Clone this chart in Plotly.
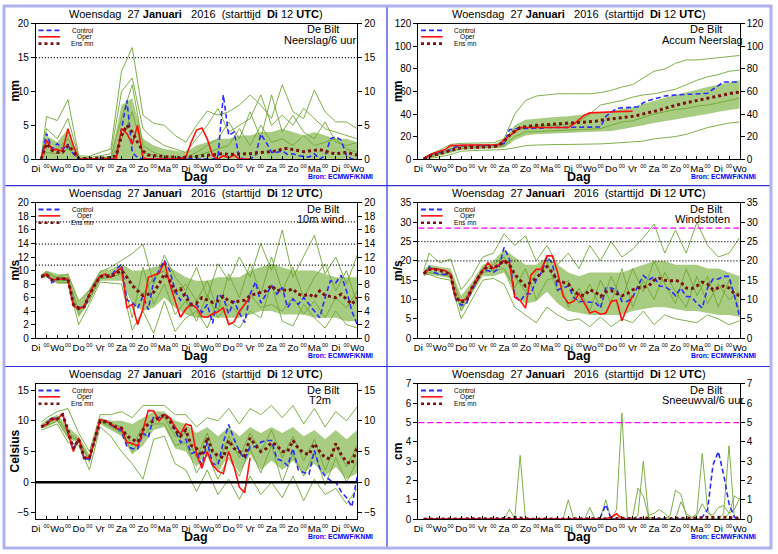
import plotly.graph_objects as go

W, H = 778, 554

# ---------------- time axis ----------------
HOURS6 = list(range(6, 361, 6))                 # 6-hourly steps, 60 points
HOURS12 = [6] + list(range(12, 361, 12))        # member grid, 31 points
OPER_HOURS = HOURS6[:40]                        # oper run up to +240 h
TICK_HOURS = list(range(0, 361, 12))
DAY_NAMES = ["Di", "Wo", "Do", "Vr", "Za", "Zo", "Ma", "Di", "Wo", "Do", "Vr", "Za", "Zo", "Ma", "Di", "Wo"]
MID_LABEL = "00"

TITLE = ("Woensdag\u00a0\u00a027\u00a0<b>Januari</b>\u00a0\u00a0\u00a02016\u00a0\u00a0(starttijd\u00a0\u00a0"
         "<b>Di</b>\u00a012\u00a0<b>UTC</b>)")
STATION = "De Bilt"
SOURCE = "Bron: ECMWF/KNMI"
LEGEND_NAMES = ["Control", "Oper", "Ens mn"]

# ---------------- panel 1: Neerslag/6 uur ----------------
pr_ctrl = [0, 3.8, 1.5, 2.3, 1.5, 2.0, 0.8, 0, 0, 0,
           0, 0, 0, 0, 0.2, 4.5, 8.7, 1.0, 0.2, 0,
           0, 0, 0, 0, 0, 0, 0.2, 0.1, 0, 0,
           0, 0, 0, 0.3, 9.5, 3.5, 4.0, 0.2, 0, 0,
           0.5, 3.7, 2.5, 1.0, 1.0, 1.2, 0.7, 0.8, 0.5, 0.4,
           0.3, 0.8, 0, 0.5, 3.0, 3.3, 2.8, 0.5, 0, 0]
pr_oper = [0, 2.8, 1.4, 1.4, 1.2, 4.5, 2.0, 0, 0, 0,
           0, 0, 0, 0, 0, 4.5, 3.8, 2.2, 5.0, 0.2,
           0, 0, 0, 0, 0, 0, 0.1, 0.3, 2.5, 4.3,
           4.6, 3.0, 0.5, 0, 0.5, 0.2, 0.6, 0, 0, 0]
pr_mean = [0, 2.3, 1.3, 1.0, 1.0, 2.0, 1.2, 0.1, 0.1, 0.1,
           0.1, 0.2, 0.2, 0.2, 0.5, 3.5, 5.0, 4.0, 2.5, 1.2,
           0.6, 0.5, 0.4, 0.3, 0.3, 0.3, 0.2, 0.3, 0.3, 0.4,
           0.5, 0.6, 0.6, 0.8, 0.8, 0.7, 0.7, 0.8, 0.7, 0.8,
           0.9, 1.0, 1.0, 1.1, 1.2, 1.5, 1.6, 1.4, 1.2, 1.1,
           1.2, 1.3, 1.4, 1.2, 0.9, 0.8, 0.9, 1.0, 0.8, 0.6]
pr_band_hi = [0.2, 3.5, 2.5, 4.5, 0.2, 0.1, 0.3, 0.5, 8.0, 9.0, 3.0, 2.0, 1.5, 1.2, 1.0, 2.0,
              2.5, 3.0, 3.0, 3.5, 3.5, 4.0, 4.0, 4.5, 4.0, 3.5, 4.0, 3.5, 3.0, 3.0, 2.5]
pr_band_lo = None
pr_members = [
    [0.3, 6.3, 5.7, 8.8, 0.5, 0.4, 1.0, 1.5, 13.0, 16.5, 6.5, 5.3, 5.0, 3.5, 2.5, 5.0,
     7.1, 6.5, 7.0, 8.0, 9.5, 8.0, 6.0, 11.0, 7.0, 6.0, 10.2, 7.0, 5.5, 5.5, 4.5],
    [0.2, 4.5, 3.0, 6.0, 0.3, 0.2, 0.5, 0.8, 10.0, 12.0, 4.5, 3.0, 2.0, 1.5, 1.0, 3.0,
     5.0, 7.5, 4.0, 5.0, 6.0, 9.5, 5.0, 6.5, 5.0, 7.5, 6.0, 4.5, 4.0, 3.5, 3.0],
    [0.1, 2.0, 1.5, 3.0, 0.1, 0.0, 0.2, 0.3, 6.0, 11.0, 2.0, 1.0, 0.5, 0.2, 0.3, 1.0,
     2.0, 3.0, 5.5, 3.0, 7.0, 3.0, 9.5, 4.0, 6.5, 4.0, 3.0, 5.5, 2.5, 2.0, 2.5],
    [0.0, 1.0, 0.8, 1.5, 0.0, 0.0, 0.0, 0.1, 3.0, 7.0, 1.0, 0.5, 0.2, 0.0, 0.0, 0.5,
     1.0, 1.5, 2.0, 4.5, 2.0, 5.0, 2.5, 3.0, 2.0, 3.5, 2.0, 2.5, 3.0, 1.5, 1.0],
]

# ---------------- panel 2: Accum Neerslag ----------------
ac_ctrl = [0.3, 3.5, 5, 6, 7, 8, 11, 12, 12, 12,
           12, 12, 12, 12, 12.2, 14, 26, 27, 27, 27.5,
           27.5, 27.5, 27.5, 28, 28, 28, 28, 28, 28, 28,
           28, 28, 28, 28.5, 38, 41.5, 45, 45.5, 45.5, 46,
           46.5, 50, 52, 53.5, 55, 56, 56.5, 57, 57, 57.5,
           57.5, 58, 58, 58.5, 62, 65, 68.5, 68.5, 68.5, 68.5]
ac_oper = [0.3, 3.5, 5.5, 7, 8.5, 12, 12.3, 12.5, 12.5, 12.5,
           12.5, 12.5, 12.5, 12.5, 12.8, 17, 21, 24, 28, 28,
           28, 28, 28, 28, 28, 28, 28, 28, 31, 35,
           39, 41, 41.3, 41.5, 41.8, 42, 42.2, 42.3, 42.4, 42.5]
ac_mean = [0.3, 2.5, 3.5, 5, 6.5, 8, 9, 10, 10.2, 10.5,
           10.7, 11, 11, 11, 12, 16, 21, 25, 28, 29,
           29.5, 30, 30.2, 30.5, 30.7, 31, 31.5, 32, 32.3, 32.5,
           32.8, 33, 33.5, 34.5, 35, 36, 36.5, 37, 37.5, 38,
           39, 40, 41, 42.5, 43.5, 45, 46.5, 48, 49, 50,
           51, 52.5, 53.5, 54.5, 55, 56, 57, 58, 59, 59.5]
ac_band_hi = [1, 3.5, 7, 11, 13, 13, 13, 13.5, 17, 30, 35, 36, 37, 37.5, 38, 39,
              40, 41.5, 43, 44.5, 46, 49, 52, 54.5, 57, 59.5, 62, 64, 66, 68, 70]
ac_band_lo = [0, 1, 3, 5.5, 8, 8.5, 9, 9, 10, 17, 21, 22, 22.5, 23, 23, 23.5,
              24, 24.5, 25, 26.5, 28, 30, 32, 33.5, 35, 36.5, 38, 40, 42, 43.5, 45]
ac_members = [
    [1, 4, 8, 13, 14, 14, 14, 14.5, 18, 40, 52, 56, 57, 58, 58, 58,
     58, 59, 61, 64, 66, 72, 78, 80, 85, 88, 88, 89, 90, 91, 92],
    [0, 0.5, 2, 4, 7, 7.5, 8, 8, 8.5, 10, 12, 12.5, 13, 13, 13, 13,
     13.5, 13.5, 14, 14.5, 15, 16, 18, 19, 20, 22, 25, 28, 30, 32, 33],
    [0.5, 2.5, 5, 9, 11, 11.5, 12, 12, 14, 25, 28, 29, 30, 30, 31, 33,
     40, 48, 50, 52, 55, 57, 58, 60, 62, 66, 70, 73, 75, 78, 79],
    [0.3, 1.5, 4, 7, 9.5, 10, 10.5, 10.5, 12, 20, 24, 24.5, 25, 25.5, 26, 26,
     26.5, 27, 30, 33, 34, 37, 40, 42, 44, 45, 47, 48, 50, 52, 54],
]

# ---------------- panel 3: 10m wind ----------------
wi_ctrl = [9.0, 9.6, 8.2, 8.7, 8.9, 8.6, 5.0, 4.6, 4.5, 6.5,
           8.0, 9.2, 9.3, 9.2, 10.2, 10.9, 5.6, 5.3, 4.4, 6.2,
           4.2, 8.5, 10.0, 11.5, 10.0, 7.0, 5.6, 6.8, 4.8, 5.0,
           3.8, 5.0, 2.2, 6.5, 6.0, 3.6, 5.5, 3.7, 2.3, 6.5,
           8.3, 5.2, 6.5, 7.8, 6.5, 7.5, 4.5, 5.8, 5.0, 6.0,
           5.0, 4.0, 3.0, 6.0, 8.5, 8.2, 9.3, 7.0, 4.0, 2.0]
wi_oper = [9.1, 9.5, 8.6, 8.7, 8.8, 8.7, 4.8, 4.3, 4.7, 6.5,
           8.0, 9.2, 9.5, 9.0, 9.8, 10.4, 4.5, 5.0, 2.0, 4.3,
           9.0, 9.3, 9.6, 11.3, 8.0, 5.5, 3.1, 4.3, 5.0, 4.5,
           3.2, 3.1, 3.6, 3.9, 4.5, 2.0, 2.4, 4.0, 5.0, 6.0]
wi_mean = [9.1, 9.4, 8.6, 8.8, 8.8, 8.7, 5.0, 4.4, 4.6, 6.4,
           7.9, 9.1, 9.2, 9.1, 9.6, 10.0, 9.0, 7.8, 7.0, 6.3,
           6.5, 6.8, 8.0, 9.5, 8.5, 7.0, 7.3, 6.0, 5.0, 5.2,
           6.0, 5.6, 5.3, 5.5, 6.2, 5.5, 5.3, 5.5, 5.6, 6.3,
           6.5, 6.7, 7.0, 7.8, 7.0, 7.2, 7.0, 7.3, 6.5, 6.3,
           6.5, 6.0, 7.0, 6.3, 6.2, 6.0, 6.5, 5.8, 5.0, 6.0]
wi_band_hi = [9.5, 10.0, 9.5, 9.5, 5.5, 7.3, 10.0, 10.2, 11.0, 10.0, 10.0, 10.5, 11.0, 10.0, 9.0, 8.5,
              8.5, 9.0, 9.0, 9.0, 10.0, 10.5, 11.0, 10.5, 10.0, 10.0, 10.0, 9.5, 9.0, 9.0, 9.0]
wi_band_lo = [8.8, 9.0, 8.0, 8.0, 3.0, 5.5, 8.5, 8.5, 8.5, 5.0, 4.0, 4.5, 6.0, 4.5, 3.5, 3.0,
              3.0, 3.0, 3.0, 3.0, 3.5, 4.0, 4.0, 3.5, 3.5, 3.5, 3.0, 3.0, 3.0, 2.5, 2.5]
wi_members = [
    [9.3, 9.8, 9.0, 9.5, 5.5, 7.0, 9.8, 10.5, 11.5, 12.5, 13.9, 8.0, 12.3, 9.0, 7.0, 10.5,
     6.0, 11.0, 8.5, 12.0, 9.0, 14.0, 10.0, 16.0, 9.0, 12.0, 15.2, 9.5, 12.0, 8.0, 12.3],
    [9.0, 9.3, 8.3, 8.2, 2.0, 5.0, 8.3, 8.2, 8.0, 1.2, 4.0, 0.7, 5.5, 1.0, 3.0, 4.0,
     1.5, 5.5, 2.5, 1.5, 4.0, 3.0, 8.0, 2.5, 1.8, 5.0, 3.0, 1.5, 4.0, 2.0, 1.5],
    [9.2, 9.6, 8.8, 9.0, 4.0, 6.0, 9.0, 9.5, 10.5, 8.0, 6.5, 9.0, 10.0, 6.5, 8.0, 5.5,
     8.5, 4.0, 9.5, 6.0, 11.0, 6.5, 12.0, 7.0, 10.5, 6.0, 9.0, 11.0, 7.0, 10.0, 5.0],
    [9.0, 9.2, 8.5, 8.5, 3.5, 5.5, 8.8, 9.0, 9.5, 3.0, 10.5, 5.0, 8.0, 3.5, 5.5, 2.5,
     6.5, 3.0, 5.0, 3.5, 6.5, 4.5, 5.0, 4.0, 6.0, 3.5, 5.5, 3.0, 6.0, 4.5, 7.0],
]

# ---------------- panel 4: Windstoten ----------------
gu_ctrl = [16.7, 18.5, 17.0, 16.5, 16.5, 16.5, 10.0, 8.5, 9.0, 12.5,
           15.0, 17.5, 17.5, 17.0, 18.0, 23.5, 20.5, 11.0, 9.5, 11.5,
           11.5, 15.0, 17.0, 21.0, 19.5, 12.5, 13.0, 13.5, 10.5, 9.5,
           9.5, 9.3, 9.3, 7.8, 13.0, 13.0, 12.5, 9.5, 9.5, 10.5,
           13.5, 16.2, 15.0, 16.0, 13.5, 13.3, 12.5, 11.0, 13.0, 10.8,
           10.7, 9.0, 7.8, 13.0, 15.3, 15.3, 16.0, 16.0, 11.0, 5.5]
gu_oper = [16.7, 17.8, 18.0, 17.8, 17.5, 16.5, 10.0, 9.8, 10.0, 13.0,
           15.5, 17.5, 19.5, 18.0, 19.0, 20.0, 19.5, 10.5, 9.8, 7.8,
           16.3, 17.8, 17.8, 21.3, 21.3, 17.0, 11.0, 9.0, 9.5, 11.5,
           9.0, 6.5, 7.0, 6.2, 6.5, 9.5, 9.8, 4.5, 8.0, 11.0]
gu_mean = [16.7, 17.8, 17.8, 17.5, 17.0, 16.5, 10.5, 9.3, 9.8, 13.0,
           15.3, 17.5, 18.5, 18.0, 19.0, 20.0, 19.0, 16.5, 15.0, 13.5,
           14.5, 15.5, 17.0, 18.5, 17.0, 14.8, 14.5, 14.0, 12.0, 11.3,
           11.0, 12.5, 12.0, 10.8, 12.0, 12.3, 11.5, 11.0, 11.5, 12.5,
           13.0, 13.3, 13.5, 15.0, 15.5, 15.0, 14.8, 15.0, 14.5, 13.0,
           12.8, 13.5, 14.5, 14.0, 12.5, 13.0, 13.5, 13.0, 11.5, 11.0]
gu_band_hi = [17.5, 19, 18.5, 18, 11, 14.5, 19, 20, 23, 21, 19, 19, 21, 19, 17, 16,
              17, 17, 17, 17, 18, 19, 20, 20, 19, 19, 19, 18, 18, 17, 16]
gu_band_lo = [16.3, 16.5, 16, 15.5, 7, 11.5, 16, 16, 17, 11, 9, 9.5, 12, 9, 7, 6.5,
              6, 6, 6, 6, 7, 7.5, 8, 8, 7.5, 7, 7, 6.5, 6, 6, 5.5]
gu_members = [
    [17.5, 22.0, 19.5, 20.5, 12.5, 16.0, 21.0, 22.0, 27.0, 24.0, 26.5, 20.0, 24.0, 19.0, 22.0, 18.0,
     24.0, 20.0, 25.0, 21.0, 23.0, 26.0, 29.5, 22.0, 28.0, 22.0, 30.0, 24.0, 21.0, 22.0, 26.0],
    [16.3, 16.5, 15.5, 15.0, 5.0, 10.0, 15.0, 15.5, 14.0, 8.0, 6.0, 4.0, 8.0, 6.0, 4.5, 5.0,
     3.0, 5.5, 3.0, 5.0, 4.0, 7.0, 3.5, 6.0, 5.0, 4.5, 4.0, 6.0, 5.0, 3.5, 4.5],
    [17.0, 18.5, 17.5, 17.0, 9.0, 13.0, 18.0, 19.0, 21.0, 16.0, 12.0, 17.0, 20.0, 12.0, 15.0, 9.0,
     14.0, 8.0, 16.0, 10.0, 18.0, 12.0, 20.0, 14.0, 9.0, 18.0, 11.0, 16.0, 8.0, 15.0, 7.0],
    [16.5, 17.0, 16.5, 16.0, 7.0, 12.0, 17.0, 17.5, 18.0, 13.0, 18.0, 10.0, 15.0, 16.0, 8.0, 13.0,
     7.0, 15.0, 9.0, 18.0, 8.0, 15.0, 10.0, 17.0, 12.0, 8.0, 16.0, 9.0, 14.0, 10.0, 12.0],
]

# ---------------- panel 5: T2m ----------------
t2_ctrl = [9.0, 9.5, 10.5, 10.3, 11.2, 8.0, 5.5, 7.0, 3.8, 3.8,
           7.0, 10.0, 10.0, 9.3, 8.8, 8.3, 5.8, 5.5, 5.4, 8.0,
           7.3, 10.8, 10.5, 11.0, 10.5, 8.5, 6.5, 7.0, 4.7, 5.0,
           2.8, 6.5, 3.0, 2.8, 6.5, 9.4, 7.0, 5.0, 3.8, 5.8,
           5.8, 6.5, 6.8, 6.8, 3.8, 3.5, 2.7, 5.5, 2.0, 1.6,
           1.3, 5.2, 2.3, 1.0, 0.3, 0.0, -1.5, -2.5, -4.0, 1.0]
t2_oper = [9.1, 9.4, 10.3, 10.2, 11.2, 8.0, 5.0, 7.2, 4.0, 4.0,
           7.0, 10.2, 10.0, 9.5, 8.8, 8.7, 6.5, 6.3, 5.9, 8.5,
           11.7, 11.6, 10.0, 11.0, 10.5, 9.0, 7.8, 9.5, 9.2, 4.5,
           2.3, 5.0, 2.8, 1.8, 1.4, 5.0, 2.5, -0.8, -1.7, 4.0]
t2_mean = [9.0, 9.5, 10.3, 10.3, 11.0, 8.5, 5.5, 7.0, 4.0, 4.0,
           7.0, 10.0, 9.8, 9.5, 9.0, 8.8, 7.5, 7.0, 6.5, 8.5,
           9.5, 10.0, 10.5, 11.0, 10.0, 8.5, 7.5, 8.5, 6.0, 5.5,
           4.3, 7.3, 5.0, 4.3, 4.0, 6.8, 5.5, 5.0, 4.3, 7.2,
           6.0, 5.0, 5.5, 6.5, 6.0, 5.0, 5.0, 6.8, 5.5, 4.8,
           4.5, 6.3, 5.0, 4.0, 3.8, 6.3, 4.5, 3.3, 3.0, 5.8]
t2_band_hi = [9.5, 10.2, 11, 9, 7.5, 4.5, 10.5, 10, 10, 9.5, 10.5, 11.5, 11.5, 10, 9.5, 8,
              9, 7.5, 9, 7.5, 9, 8, 9, 8, 9, 7.5, 8.5, 7, 8.5, 7, 8.5]
t2_band_lo = [8.8, 9.0, 9.8, 7, 6.5, 3.0, 9.5, 8.5, 7.5, 4.5, 6, 8.5, 9, 5.5, 5.0, 2.5,
              5, 1.5, 4.5, 1.5, 4.5, 2.0, 3.5, 2.0, 3.5, 1.5, 3.0, 1.0, 2.5, 0.5, 1.5]
t2_members = [
    [9.8, 10.5, 11.5, 12.0, 8.0, 5.0, 11.0, 11.0, 11.5, 10.5, 12.5, 12.5, 12.5, 11.0, 11.0, 9.0,
     10.5, 10.0, 12.0, 9.5, 12.0, 11.0, 12.5, 10.5, 12.5, 9.5, 12.0, 9.0, 11.5, 10.0, 12.3],
    [8.5, 8.8, 9.5, 6.5, 6.0, 2.0, 9.0, 7.5, 5.0, 3.0, 0.5, 7.0, 7.5, 3.0, 2.0, -1.5,
     2.0, -2.0, 0.5, -2.8, 1.0, -2.0, 0.0, -2.5, 1.0, -3.0, 0.5, -2.0, -1.0, -3.5, -1.0],
    [9.2, 9.5, 10.5, 8.0, 7.0, 3.5, 10.0, 9.5, 9.0, 6.0, 9.0, 10.5, 10.5, 7.5, 8.0, 4.0,
     8.0, 3.0, 7.5, 4.0, 8.0, 5.0, 8.5, 4.0, 7.5, 3.5, 7.0, 2.0, 6.0, 2.5, 6.0],
    [9.0, 9.2, 10.0, 7.5, 6.8, 3.5, 9.8, 9.0, 8.0, 5.0, 7.5, 9.5, 9.5, 6.0, 6.5, 1.5,
     4.5, 0.5, 4.0, 1.0, 5.5, 1.5, 6.0, 0.0, 4.5, 1.0, 5.0, -0.5, 4.0, 0.0, 3.5],
]

# ---------------- panel 6: Sneeuwval/6 uur ----------------
sn_ctrl = [0, 0, 0, 0, 0, 0, 0, 0, 0, 0,
           0, 0, 0, 0, 0, 0, 0, 0, 0, 0,
           0, 0, 0, 0, 0, 0, 0, 0, 0, 0,
           0, 0, 0, 0.1, 0.75, 0, 0, 0, 0, 0,
           0, 0, 0, 0, 0, 0, 0, 0, 0, 0,
           0, 0, 0.1, 0.5, 2.8, 3.5, 2.3, 0.8, 0.1, 0]
sn_oper = [0, 0, 0, 0, 0, 0, 0, 0, 0, 0,
           0, 0, 0, 0, 0, 0, 0, 0, 0, 0,
           0, 0, 0, 0, 0, 0, 0, 0, 0, 0,
           0, 0, 0, 0, 0.02, 0.1, 0.28, 0.02, 0, 0]
sn_mean = [0, 0, 0, 0, 0, 0, 0, 0, 0, 0,
           0, 0, 0, 0, 0, 0, 0.03, 0.08, 0.05, 0.01,
           0, 0, 0, 0, 0, 0, 0, 0.01, 0, 0,
           0, 0.01, 0, 0.01, 0.03, 0.02, 0.03, 0.05, 0.02, 0.02,
           0.03, 0.05, 0.03, 0.02, 0.03, 0.02, 0.02, 0.04, 0.04, 0.03,
           0.05, 0.05, 0.08, 0.1, 0.08, 0.1, 0.1, 0.08, 0.07, 0.05]
sn_members = [
    [0, 0, 0, 0, 0, 0, 0, 0, 0, 0,
     0, 0, 0, 0, 0, 0, 0.5, 0.05, 3.3, 0,
     0, 0, 0, 0, 0, 0, 0, 0, 0, 0,
     0, 0, 0, 0, 0, 0, 0.5, 5.5, 0.1, 0,
     0, 0, 0, 0, 0, 0, 0, 0, 0, 0,
     0, 0.3, 3.4, 0.5, 0, 0, 0, 0, 0, 0],
    [0, 0, 0, 0, 0, 0, 0, 0, 0, 0,
     0, 0, 0, 0, 0, 0, 0, 0, 0, 0,
     0, 0, 0, 0, 0, 0, 0, 1.0, 0, 0,
     0, 0, 0, 0, 0, 0, 0, 0, 0, 0,
     0.2, 3.0, 0.1, 0, 0, 0, 0, 0, 0, 0,
     0, 0, 0, 0, 0, 0, 0.3, 3.8, 0.1, 0],
    [0, 0, 0, 0, 0, 0, 0, 0, 0, 0,
     0, 0, 0, 0, 0, 0, 0, 0, 0, 0,
     0, 0, 0, 0, 0, 0, 0, 0, 0, 0,
     0, 0.6, 0, 0.1, 1.0, 0, 0, 0, 0, 0.1,
     1.6, 1.2, 0.1, 0, 0, 0, 0.2, 1.5, 1.3, 0.2,
     0, 0, 0, 0, 0, 0, 0, 0.3, 1.2, 1.0],
    [0, 0, 0, 0, 0, 0, 0, 0, 0, 0,
     0, 0, 0, 0, 0, 0, 0, 0, 0, 0,
     0, 0, 0, 0, 0, 0, 0, 0, 0, 0,
     0, 0, 0, 0, 0, 0, 0, 0, 0, 0,
     0, 0, 0.2, 0.3, 0.5, 0.3, 0, 0, 0.9, 0.3,
     0.1, 0.2, 0.8, 0.3, 0.2, 0.6, 0.7, 0.3, 0.5, 1.1],
]

PANELS = [
    dict(var="Neerslag/6 uur", unit="mm", yrange=[0, 20], dtick=5, ctrl=pr_ctrl, oper=pr_oper, mean=pr_mean,
         hi=pr_band_hi, lo=pr_band_lo, members=pr_members, mgrid=HOURS12,
         refs=[(15, "dot")]),
    dict(var="Accum Neerslag", unit="mm", yrange=[0, 120], dtick=20, ctrl=ac_ctrl, oper=ac_oper, mean=ac_mean,
         hi=ac_band_hi, lo=ac_band_lo, members=ac_members, mgrid=HOURS12, refs=[]),
    dict(var="10m wind", unit="m/s", yrange=[0, 20], dtick=2, ctrl=wi_ctrl, oper=wi_oper, mean=wi_mean,
         hi=wi_band_hi, lo=wi_band_lo, members=wi_members, mgrid=HOURS12,
         refs=[(10.8, "dot"), (13.9, "dot"), (17.2, "dot")]),
    dict(var="Windstoten", unit="m/s", yrange=[0, 35], dtick=5, ctrl=gu_ctrl, oper=gu_oper, mean=gu_mean,
         hi=gu_band_hi, lo=gu_band_lo, members=gu_members, mgrid=HOURS12,
         refs=[(20, "dot"), (25, "dot"), (28.5, "magenta")]),
    dict(var="T2m", unit="Celsius", yrange=[-6, 16], dtick=5, ctrl=t2_ctrl, oper=t2_oper, mean=t2_mean,
         hi=t2_band_hi, lo=t2_band_lo, members=t2_members, mgrid=HOURS12, refs=[(0, "zero")]),
    dict(var="Sneeuwval/6 uur", unit="cm", yrange=[0, 7], dtick=1, ctrl=sn_ctrl, oper=sn_oper, mean=sn_mean,
         hi=None, lo=None, members=sn_members, mgrid=HOURS6, refs=[(5, "magenta")]),
]

# ---------------- styling / layout ----------------
FONT = "Liberation Sans"
C_MEMBER = "rgb(112,166,52)"
C_BAND = "rgba(128,180,72,0.68)"
C_CTRL = "#2b2bff"
C_OPER = "#ff1010"
C_MEAN = "#7a1212"
BORDER = "#3030d8"

PL, PR, PT, PB = 32.3, 358.3, 18.3, 156.5   # plot box inside a panel (px)
COL_X = [0, 388]
ROW_Y = [0, 183, 368]


def fx(px):
    return px / W


def fy(py):
    return 1 - py / H


def axid(letter, n):
    return letter if n == 1 else f"{letter}{n}"


fig = go.Figure()
annotations = []
shapes = []
layout_axes = {}

ticktext = [DAY_NAMES[h // 24] if h % 24 == 0
            else "<sup><span style='font-size:5.5px'>" + MID_LABEL + "</span></sup>" for h in TICK_HOURS]

for i, p in enumerate(PANELS):
    n = i + 1
    ox = COL_X[i % 2]
    oy = ROW_Y[i // 2]
    xa, ya, yr = axid("x", n), axid("y", n), axid("y", n + 6)

    # ensemble band
    if p["hi"] is not None:
        if p["lo"] is not None:
            fig.add_trace(go.Scatter(x=HOURS12, y=p["lo"], mode="lines", line=dict(width=0, color=C_BAND),
                                     xaxis=xa, yaxis=ya, showlegend=False, hoverinfo="skip"))
            fig.add_trace(go.Scatter(x=HOURS12, y=p["hi"], mode="lines", line=dict(width=0, color=C_BAND),
                                     fill="tonexty", fillcolor=C_BAND,
                                     xaxis=xa, yaxis=ya, showlegend=False, hoverinfo="skip"))
        else:
            fig.add_trace(go.Scatter(x=HOURS12, y=p["hi"], mode="lines", line=dict(width=0, color=C_BAND),
                                     fill="tozeroy", fillcolor=C_BAND,
                                     xaxis=xa, yaxis=ya, showlegend=False, hoverinfo="skip"))
    for m in p["members"]:
        fig.add_trace(go.Scatter(x=p["mgrid"], y=m, mode="lines", line=dict(width=0.9, color=C_MEMBER),
                                 xaxis=xa, yaxis=ya, showlegend=False, hoverinfo="skip"))
    fig.add_trace(go.Scatter(x=HOURS6, y=p["ctrl"], mode="lines",
                             line=dict(width=1.6, color=C_CTRL, dash="5px,3px"),
                             xaxis=xa, yaxis=ya, showlegend=False))
    fig.add_trace(go.Scatter(x=OPER_HOURS, y=p["oper"], mode="lines",
                             line=dict(width=1.6, color=C_OPER),
                             xaxis=xa, yaxis=ya, showlegend=False))
    fig.add_trace(go.Scatter(x=HOURS6, y=p["mean"], mode="lines",
                             line=dict(width=3, color=C_MEAN, dash="dot"),
                             xaxis=xa, yaxis=ya, showlegend=False))
    # empty trace to register the right-hand y axis
    fig.add_trace(go.Scatter(x=[], y=[], xaxis=xa, yaxis=yr, showlegend=False, hoverinfo="skip"))

    xdom = [fx(ox + PL), fx(ox + PR)]
    ydom = [fy(oy + PB), fy(oy + PT)]
    layout_axes["xaxis" if n == 1 else f"xaxis{n}"] = dict(
        domain=xdom, anchor=ya, range=[0, 360], tickmode="array", tickvals=TICK_HOURS, ticktext=ticktext,
        tickangle=0, showline=True, linecolor="black", linewidth=1, mirror=True, ticks="inside",
        ticklen=3, tickcolor="black", tickfont=dict(family=FONT, size=9.5, color="black"),
        showgrid=False, zeroline=False)
    layout_axes["yaxis" if n == 1 else f"yaxis{n}"] = dict(
        domain=ydom, anchor=xa, range=p["yrange"], dtick=p["dtick"], tick0=0,
        showline=True, linecolor="black", linewidth=1, mirror=True, ticks="outside", ticklen=4,
        tickcolor="black", tickfont=dict(family=FONT, size=10, color="black"),
        showgrid=False, zeroline=False)
    layout_axes[f"yaxis{n + 6}"] = dict(
        overlaying=ya, side="right", anchor=xa, range=p["yrange"], dtick=p["dtick"], tick0=0,
        showline=False, ticks="outside", ticklen=4, tickcolor="black",
        tickfont=dict(family=FONT, size=10, color="black"), showgrid=False, zeroline=False)

    # reference lines
    for val, kind in p["refs"]:
        if kind == "dot":
            ln = dict(color="black", width=1.2, dash="1px,2px")
        elif kind == "magenta":
            ln = dict(color="#ff00ff", width=1.3, dash="6px,3px")
        else:
            ln = dict(color="black", width=2.6)
        shapes.append(dict(type="line", xref=f"{xa} domain", yref=ya, x0=0, x1=1, y0=val, y1=val,
                           line=ln, layer="above"))

    # texts
    def ann(text, px, py, size, color="black", bold=False, angle=0, xanchor="center"):
        annotations.append(dict(text=f"<b>{text}</b>" if bold else text, x=fx(ox + px), y=fy(oy + py),
                                xref="paper", yref="paper", showarrow=False, xanchor=xanchor,
                                yanchor="middle", textangle=angle,
                                font=dict(family=FONT, size=size, color=color)))

    ann(TITLE, 195, 8.5, 11)
    ann(STATION, 324, 24, 11)
    ann(p["var"], 321, 34.5, 11)
    ann("Dag", 195, 174.5, 12.5, bold=True)
    ann(p["unit"], 11.5, 87, 12, bold=True, angle=-90)
    ann(SOURCE, 341.5, 174.5, 6.8, color="#0000ff", bold=True)
    ann(LEGEND_NAMES[0], 80, 24.8, 6.6)
    ann(LEGEND_NAMES[1], 82, 31.6, 6.6)
    ann(LEGEND_NAMES[2], 80, 38.6, 6.6)

    # legend samples
    for yy, ln in [(25, dict(color=C_CTRL, width=1.8, dash="5px,3px")),
                   (31.5, dict(color=C_OPER, width=1.6)),
                   (38.5, dict(color=C_MEAN, width=2.6, dash="dot"))]:
        shapes.append(dict(type="line", xref="paper", yref="paper", x0=fx(ox + 35), x1=fx(ox + 57),
                           y0=fy(oy + yy), y1=fy(oy + yy), line=ln))

# panel frames
shapes.append(dict(type="line", xref="paper", yref="paper", x0=fx(388.5), x1=fx(388.5), y0=0, y1=1,
                   line=dict(color=BORDER, width=1.2)))
for yy in (183.5, 368.5):
    shapes.append(dict(type="line", xref="paper", yref="paper", x0=0, x1=1, y0=fy(yy), y1=fy(yy),
                       line=dict(color=BORDER, width=1.2)))
shapes.append(dict(type="rect", xref="paper", yref="paper", x0=0, x1=1, y0=0, y1=1,
                   line=dict(color="#b0b0f0", width=3)))

fig.update_layout(width=W, height=H, margin=dict(l=0, r=0, t=0, b=0), paper_bgcolor="white",
                  plot_bgcolor="white", showlegend=False, annotations=annotations, shapes=shapes,
                  font=dict(family=FONT, color="black"), **layout_axes)

fig.write_html("out.html", config={"displayModeBar": False},
               post_script="document.body.style.margin='0';document.body.style.overflow='hidden';")
